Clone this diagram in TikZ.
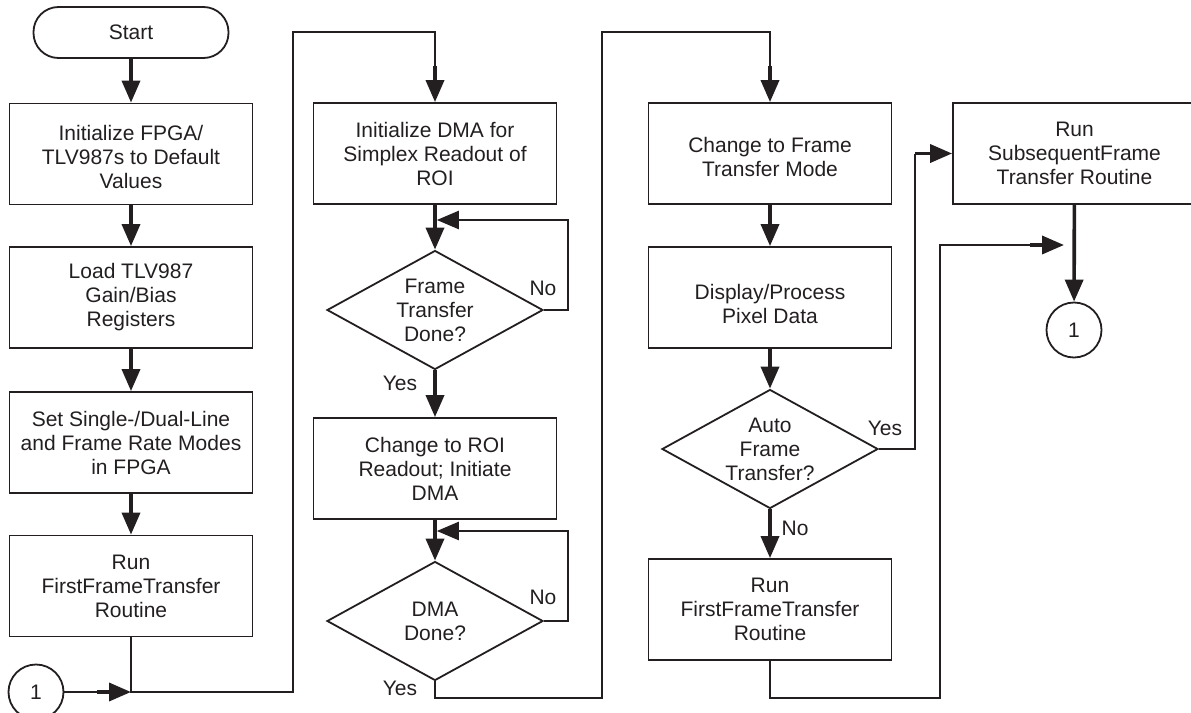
\documentclass[tikz,border=0pt]{standalone}
\usepackage{fontspec}
\setmainfont{Liberation Sans}
\usetikzlibrary{arrows.meta,shapes.geometric}
\definecolor{ink}{RGB}{35,31,32}
% invisible strut that lowers the first line of a box text
\newcommand{\lowerby}[1]{\rule{0pt}{#1}}
\begin{document}
\begin{tikzpicture}[x=1pt,y=-1pt,
  every node/.style={text=ink, font=\fontsize{21}{24}\selectfont},
  procbox/.style={draw=ink, line width=1.8pt, minimum width=243pt, minimum height=101pt, align=center, inner sep=0pt},
  decide/.style={draw=ink, line width=1.8pt, diamond, aspect=1.83, minimum width=216pt, minimum height=119pt, inner sep=-8pt, align=center},
  termin/.style={draw=ink, line width=1.8pt, rounded corners=25pt, minimum width=195pt, minimum height=51pt},
  connector/.style={draw=ink, circle, line width=1.8pt, minimum size=55pt, inner sep=0pt},
  flow/.style={draw=ink, line width=2.4pt},
  arr/.style={draw=ink, line width=3.6pt, -{Triangle[length=22pt,width=18pt]}},
  loopback/.style={flow, -{Triangle[length=22pt,width=18pt]}},
  lbl/.style={inner sep=0pt}
]
\useasboundingbox (0,0) rectangle (1191,712);

% column 1
\node[termin]  (start) at (131,32.5) {Start};
\node[procbox] (b1) at (131,154)   {\lowerby{22pt}Initialize FPGA/\\TLV987s to Default\\Values};
\node[procbox] (b2) at (131,297.5) {Load TLV987\\Gain/Bias\\Registers};
\node[procbox] (b3) at (131,442.5) {Set Single-/Dual-Line\\and Frame Rate Modes\\in FPGA};
\node[procbox] (b4) at (131,586)   {Run\\FirstFrameTransfer\\Routine};
\node[connector] (c1) at (36,692) {1};

% column 2
\node[procbox] (b5) at (435,153.5) {Initialize DMA for\\Simplex Readout of\\ROI};
\node[decide]  (d1) at (435,310)   {Frame\\Transfer\\Done?};
\node[procbox] (b6) at (435,468.5) {Change to ROI\\Readout; Initiate\\DMA};
\node[decide]  (d2) at (435,621)   {DMA\\Done?};

% column 3
\node[procbox] (b7)  at (770,153.5) {\lowerby{21.5pt}Change to Frame\\Transfer Mode};
\node[procbox] (b8)  at (770,297.5) {\lowerby{29pt}Display/Process\\Pixel Data};
\node[decide]  (d3)  at (770,449)   {Auto\\Frame\\Transfer?};
\node[procbox] (b10) at (770,609.5) {Run\\FirstFrameTransfer\\Routine};

% column 4
\node[procbox]   (b9) at (1074.5,153.5) {Run\\SubsequentFrame\\Transfer Routine};
\node[connector] (c2) at (1074,330) {1};

% branch labels
\node[lbl] (no1)  at (543,288) {No};
\node[lbl] (yes1) at (400,383) {Yes};
\node[lbl] (no2)  at (543,597) {No};
\node[lbl] (yes2) at (400,688) {Yes};
\node[lbl] (yes3) at (885,428) {Yes};
\node[lbl] (no3)  at (795,528) {No};

% routing points
\coordinate (j1) at (b4.south |- c1);
\coordinate (r1) at (293,32);
\coordinate (r2) at (602,698);
\coordinate (r3) at (602,32);
\coordinate (r4) at (940,698);
\coordinate (r5) at (915,0);
\coordinate (m1) at (1064,245);
\coordinate (n1) at (568,220);
\coordinate (n2) at (568,531);

% straight steps
\draw[arr] (start) -- (b1);
\draw[arr] (b1) -- (b2);
\draw[arr] (b2) -- (b3);
\draw[arr] (b3) -- (b4);
\draw[arr] (b5) -- (d1);
\draw[arr] (d1) -- (b6);
\draw[arr] (b6) -- (d2);
\draw[arr] (b7) -- (b8);
\draw[arr] (b8) -- (d3);
\draw[arr] (d3) -- (b10);
\draw[arr] (b9) -- (c2);

% wait loops
\draw[loopback, shorten >=1.8pt] (d1.east) -| (n1) -- (n1 -| d1.north);
\draw[loopback, shorten >=1.8pt] (d2.east) -| (n2) -- (n2 -| d2.north);

% entry from connector 1 and into column 2
\draw[flow] (c1.east) -- ([xshift=-30pt]j1);
\draw[arr] ([xshift=-34pt]j1) -- (j1);
\draw[flow, shorten >=20pt] (b4.south) -- (j1) -| (r1) -| (b5.north);
\draw[arr] ([yshift=36pt]b5.north) -- (b5.north);

% DMA done into column 3
\draw[flow, shorten >=20pt] (d2.south) |- (r2) -- (r3) -| (b7.north);
\draw[arr] ([yshift=36pt]b7.north) -- (b7.north);

% auto frame transfer: yes branch
\draw[flow] (d3.east) -| (r5 |- b9.west);
\draw[arr] (r5 |- b9.west) -- (b9.west);

% first frame transfer rejoining towards connector 1
\draw[flow, shorten >=20pt] (b10.south) |- (r4) |- (m1);
\draw[arr] ([xshift=-34pt]m1) -- (m1);
\end{tikzpicture}
\end{document}
